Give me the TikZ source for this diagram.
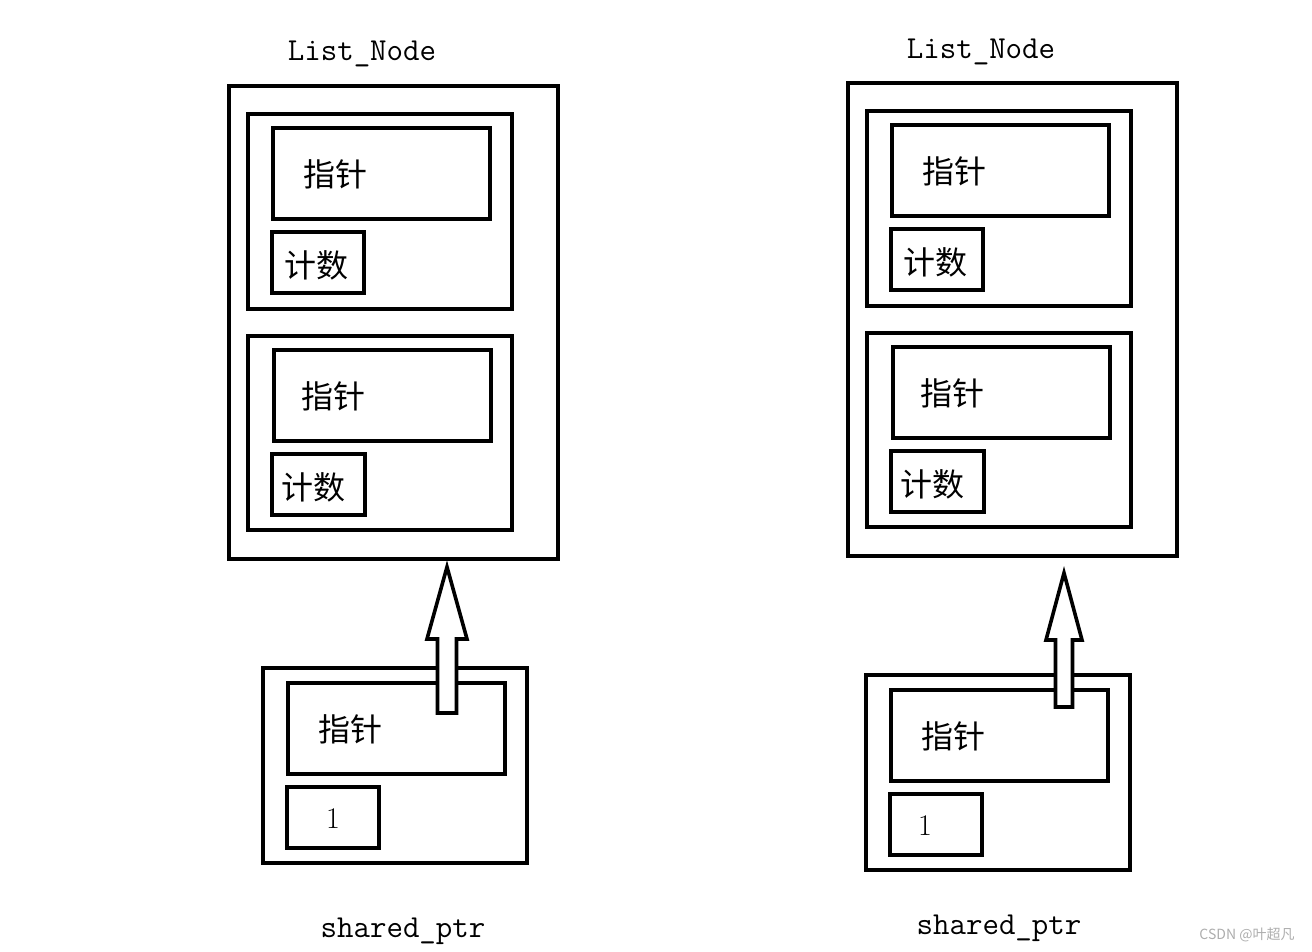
\documentclass[tikz,border=0pt]{standalone}
\usepackage{fontspec}
\newfontfamily\cjk{Noto Sans CJK SC}
\usepackage{tikz}
\usetikzlibrary{positioning}

\begin{document}
\begin{tikzpicture}[x=1pt,y=-1pt]
    \tikzset{%
        box/.style={draw,line width=3.6pt,inner sep=0pt,outer sep=0pt,anchor=north west},
        cn/.style={font=\cjk\fontsize{32}{36}\selectfont,inner sep=0pt},
        mono/.style={font=\ttfamily\fontsize{32}{36}\selectfont,inner sep=0pt},
        hollow arrow/.style={draw,line width=3.6pt,line join=miter,fill=white},
        mark text/.style={font=\cjk\fontsize{14}{16}\selectfont,text=black!32,inner sep=0pt}%
    }
    %% one List_Node with two (pointer, count) pairs
    \newcommand\ListNodeBox[3]{% name, x, y of outer box
        \node[box,minimum width=329pt,minimum height=473pt] (#1) at (#2,#3) {};
        \node[box,minimum width=264pt,minimum height=195pt] (#1-a) at (#2+19,#3+28) {};
        \node[box,minimum width=217pt,minimum height=91pt] (#1-a-ptr) at (#2+44,#3+42) {};
        \node[box,minimum width=92pt,minimum height=61pt] (#1-a-cnt) at (#2+43,#3+146) {};
        \node[box,minimum width=264pt,minimum height=194pt] (#1-b) at (#2+19,#3+250) {};
        \node[box,minimum width=217pt,minimum height=91pt] (#1-b-ptr) at (#2+45,#3+264) {};
        \node[box,minimum width=93pt,minimum height=61pt] (#1-b-cnt) at (#2+43,#3+368) {};
        \node[cn,anchor=west] at ([xshift=30pt,yshift=-1pt]#1-a-ptr.west) {指针};
        \node[cn,anchor=west] at ([xshift=12pt,yshift=-3pt]#1-a-cnt.west) {计数};
        \node[cn,anchor=west] at ([xshift=27pt,yshift=-1pt]#1-b-ptr.west) {指针};
        \node[cn,anchor=west] at ([xshift=9pt,yshift=-3pt]#1-b-cnt.west) {计数};
    }
    %% one shared_ptr (pointer, count=1)
    \newcommand\SharedBox[4]{% name, x, y, shift of the 1
        \node[box,minimum width=264pt,minimum height=195pt] (#1) at (#2,#3) {};
        \node[box,minimum width=217pt,minimum height=91pt] (#1-ptr) at (#2+25,#3+15) {};
        \node[box,minimum width=92pt,minimum height=61pt] (#1-cnt) at (#2+24,#3+119) {};
        \node[cn,anchor=west] at ([xshift=30pt,yshift=-1pt]#1-ptr.west) {指针};
        \node[font=\fontsize{30}{34}\selectfont,inner sep=0pt] at ([xshift=#4,yshift=-1pt]#1-cnt.center) {1};
    }

    \useasboundingbox (0,0) rectangle (1312,952);

    %% left
    \ListNodeBox{ln-L}{229}{86}
    \SharedBox{sp-L}{263}{668}{0pt}
    \node[mono] (ln-L-title) at (362,54) {List\_Node};
    \node[mono] (sp-L-title) at (403,931) {shared\_ptr};

    %% right
    \ListNodeBox{ln-R}{848}{83}
    \SharedBox{sp-R}{866}{675}{-11pt}
    \node[mono] (ln-R-title) at (981,52) {List\_Node};
    \node[mono] (sp-R-title) at (999,928) {shared\_ptr};

    %% block arrows from shared_ptr up to List_Node
    \coordinate (tip-L) at (447,567);
    \draw[hollow arrow] (tip-L) -- ++(20,72) -- ++(-10.5,0) -- ++(0,74) -- ++(-19,0)
        -- ++(0,-74) -- ++(-10.5,0) -- cycle;
    \coordinate (tip-R) at (1064,573);
    \draw[hollow arrow] (tip-R) -- ++(18,67) -- ++(-9.5,0) -- ++(0,67) -- ++(-17,0)
        -- ++(0,-67) -- ++(-9.5,0) -- cycle;

    \node[mark text] (mark) at (1247,935) {CSDN @叶超凡};
\end{tikzpicture}
\end{document}
